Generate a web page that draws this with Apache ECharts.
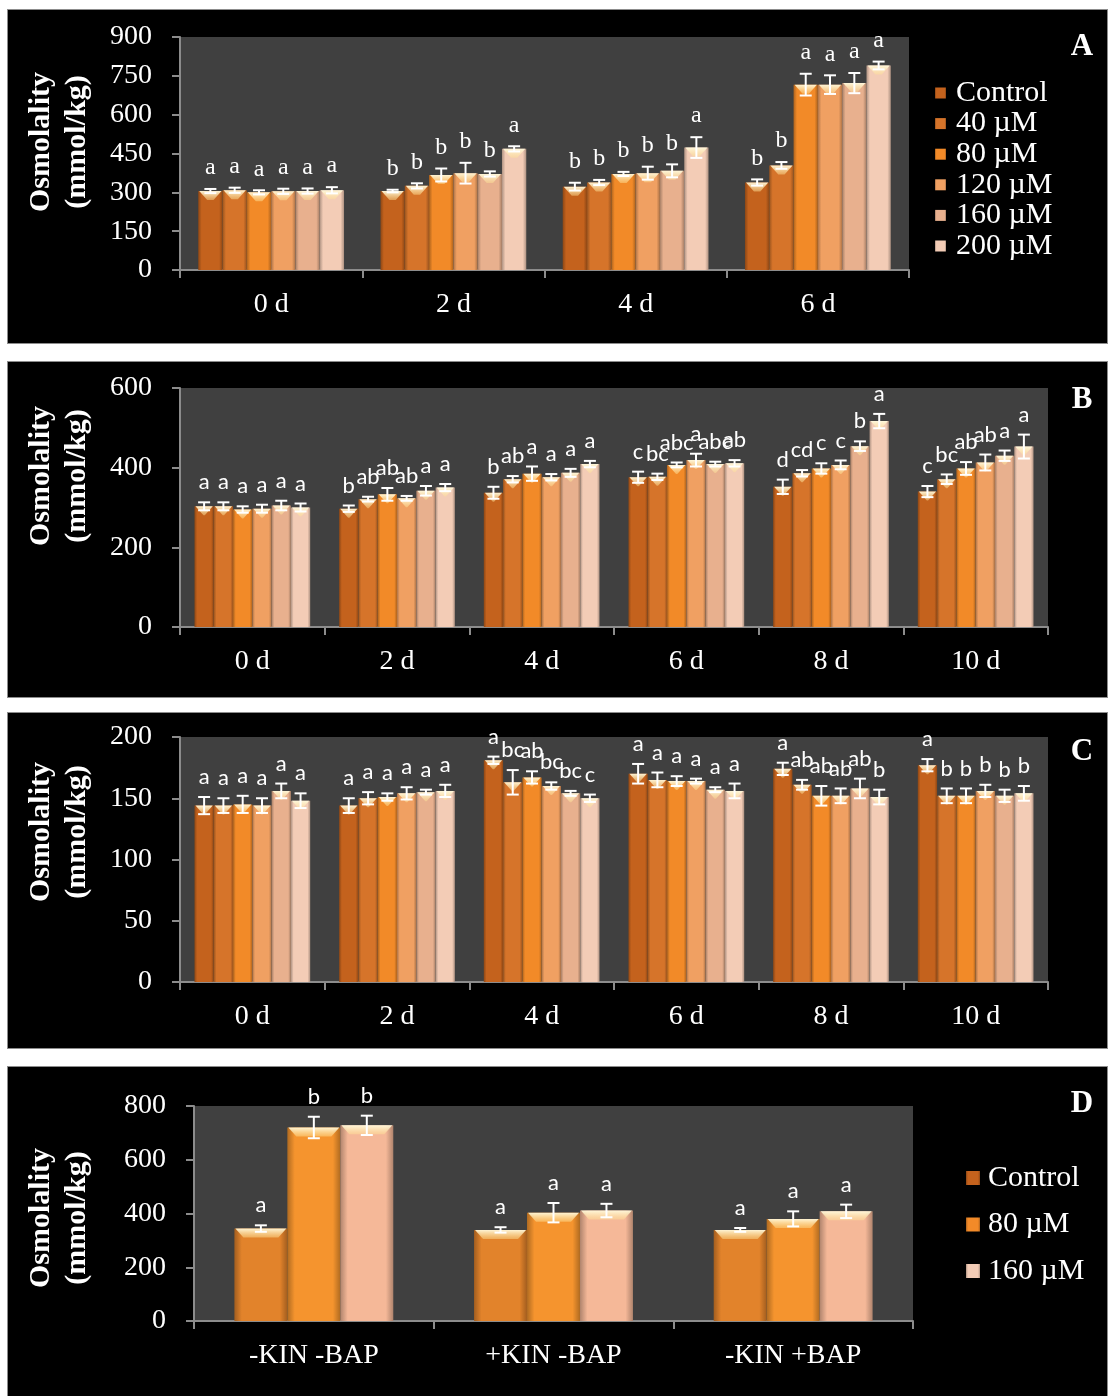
<!DOCTYPE html>
<html>
<head>
<meta charset="utf-8">
<title>Osmolality</title>
<script src="https://cdn.jsdelivr.net/npm/echarts@6/dist/echarts.min.js"></script>
<style>
  html, body { margin: 0; padding: 0; background: #ffffff; }
  body { width: 1109px; height: 1396px; position: relative; overflow: hidden; }
  .panel { position: absolute; left: 8px; width: 1099px; background: #000; outline: 1px solid #8c8c8c; }
</style>
</head>
<body>
<div id="panelA" class="panel" style="top:10px;height:333px"></div>
<div id="panelB" class="panel" style="top:362px;height:335px"></div>
<div id="panelC" class="panel" style="top:713px;height:335px"></div>
<div id="panelD" class="panel" style="top:1067px;height:329px"></div>
<script>
// ---------- Panel A ----------
const daysA = ['0 d', '2 d', '4 d', '6 d'];
const treatmentsA = ['Control', '40 µM', '80 µM', '120 µM', '160 µM', '200 µM'];
const meanA_control = [305, 305, 322, 338];
const meanA_40 = [308, 325, 338, 404];
const meanA_80 = [300, 367, 371, 716];
const meanA_120 = [304, 374, 374, 716];
const meanA_160 = [305, 371, 383, 722];
const meanA_200 = [308, 468, 473, 790];
const errA_control = [8, 5, 15, 12];
const errA_40 = [10, 10, 10, 13];
const errA_80 = [8, 25, 8, 42];
const errA_120 = [10, 40, 25, 36];
const errA_160 = [10, 10, 25, 39];
const errA_200 = [12, 10, 40, 15];
const sigA_control = ['a', 'b', 'b', 'b'];
const sigA_40 = ['a', 'b', 'b', 'b'];
const sigA_80 = ['a', 'b', 'b', 'a'];
const sigA_120 = ['a', 'b', 'b', 'a'];
const sigA_160 = ['a', 'b', 'b', 'a'];
const sigA_200 = ['a', 'a', 'a', 'a'];
const ticksA = { min: 0, max: 900, interval: 150 };

// ---------- Panel B ----------
const daysB = ['0 d', '2 d', '4 d', '6 d', '8 d', '10 d'];
const meanB_control = [303, 297, 337, 376, 352, 340];
const meanB_40 = [303, 321, 371, 377, 386, 371];
const meanB_80 = [295, 333, 385, 407, 398, 398];
const meanB_120 = [297, 323, 376, 419, 407, 413];
const meanB_160 = [305, 342, 387, 409, 454, 430];
const meanB_200 = [300, 350, 409, 411, 517, 453];
const errB_control = [10, 8, 15, 14, 18, 14];
const errB_40 = [10, 6, 8, 8, 8, 12];
const errB_80 = [8, 16, 18, 6, 13, 16];
const errB_120 = [10, 6, 8, 16, 11, 20];
const errB_160 = [12, 12, 10, 6, 12, 13];
const errB_200 = [10, 9, 8, 8, 18, 30];
const sigB_control = ['a', 'b', 'b', 'c', 'd', 'c'];
const sigB_40 = ['a', 'ab', 'ab', 'bc', 'cd', 'bc'];
const sigB_80 = ['a', 'ab', 'a', 'abc', 'c', 'ab'];
const sigB_120 = ['a', 'ab', 'a', 'a', 'c', 'ab'];
const sigB_160 = ['a', 'a', 'a', 'abc', 'b', 'a'];
const sigB_200 = ['a', 'a', 'a', 'ab', 'a', 'a'];
const ticksB = { min: 0, max: 600, interval: 200 };

// ---------- Panel C ----------
const daysC = ['0 d', '2 d', '4 d', '6 d', '8 d', '10 d'];
const meanC_control = [144, 144, 181, 170, 174, 177];
const meanC_40 = [144, 150, 163, 165, 161, 152];
const meanC_80 = [145, 151, 167, 164, 152, 152];
const meanC_120 = [144, 154, 160, 164, 152, 156];
const meanC_160 = [156, 155, 154, 157, 158, 152];
const meanC_200 = [148, 156, 150, 156, 151, 154];
const errC_control = [7, 6, 3, 8, 5, 5];
const errC_40 = [6, 5, 10, 6, 4, 6];
const errC_80 = [7, 3, 5, 4, 8, 6];
const errC_120 = [6, 5, 3, 2, 6, 5];
const errC_160 = [6, 2, 2, 2, 8, 5];
const errC_200 = [6, 5, 3, 6, 6, 6];
const sigC_control = ['a', 'a', 'a', 'a', 'a', 'a'];
const sigC_40 = ['a', 'a', 'bc', 'a', 'ab', 'b'];
const sigC_80 = ['a', 'a', 'ab', 'a', 'ab', 'b'];
const sigC_120 = ['a', 'a', 'bc', 'a', 'ab', 'b'];
const sigC_160 = ['a', 'a', 'bc', 'a', 'ab', 'b'];
const sigC_200 = ['a', 'a', 'c', 'a', 'b', 'b'];
const ticksC = { min: 0, max: 200, interval: 50 };

// ---------- Panel D ----------
const mediaD = ['-KIN -BAP', '+KIN -BAP', '-KIN +BAP'];
const treatmentsD = ['Control', '80 µM', '160 µM'];
const meanD_control = [344, 339, 339];
const meanD_80 = [720, 403, 380];
const meanD_160 = [728, 411, 408];
const errD_control = [12, 10, 7];
const errD_80 = [40, 36, 28];
const errD_160 = [36, 25, 25];
const sigD_control = ['a', 'a', 'a'];
const sigD_80 = ['b', 'a', 'a'];
const sigD_160 = ['b', 'a', 'a'];
const ticksD = { min: 0, max: 800, interval: 200 };

// ---------- styling ----------
const SERIF = '"Liberation Serif", "Times New Roman", serif';
const SANS = 'Lato, "Open Sans", sans-serif';
const AXIS_GREY = '#8c8c8c';
const PLOT_BG = '#404040';

const shadesSix = ['#c4621d', '#d6742a', '#f28a28', '#f0a062', '#e8b08e', '#f3ccb6'];
const shadesThree = ['#e2832b', '#f5942e', '#f5b898'];
const legendShadeD = ['#c4621d', '#f28a28', '#f3ccb6'];

function darken(hex, f) {
  const n = parseInt(hex.slice(1), 16);
  const r = Math.round(((n >> 16) & 255) * f);
  const g = Math.round(((n >> 8) & 255) * f);
  const b = Math.round((n & 255) * f);
  return 'rgb(' + r + ',' + g + ',' + b + ')';
}

function barFill(hex) {
  return new echarts.graphic.LinearGradient(0, 0, 1, 0, [
    { offset: 0, color: darken(hex, 0.72) },
    { offset: 0.14, color: hex },
    { offset: 0.86, color: hex },
    { offset: 1, color: darken(hex, 0.72) }
  ]);
}

function bevelFill() {
  return new echarts.graphic.LinearGradient(0, 0, 0, 1, [
    { offset: 0, color: 'rgba(255,250,222,0.95)' },
    { offset: 1, color: 'rgba(255,226,150,0.45)' }
  ]);
}

// Error bars, top bevel and significance letters for one treatment,
// placed on the same slot that the bar series occupies in each category.
function overlay(slot, count, catGap, means, errs, letters, letterFont) {
  return {
    type: 'custom',
    z: 5,
    silent: true,
    data: means.map((v, i) => [i, v + errs[i]]),
    renderItem(params, api) {
      const i = params.dataIndex;
      const band = api.size([1, 0])[0];
      const bw = band * (1 - catGap) / count;
      const c = api.coord([i, means[i]]);
      const cx = c[0] + (slot - (count - 1) / 2) * bw;
      const top = c[1];
      const hi = api.coord([i, means[i] + errs[i]])[1];
      const lo = api.coord([i, means[i] - errs[i]])[1];
      const h = Math.min(9, bw / 2);
      const x0 = cx - bw / 2, x1 = cx + bw / 2;
      const line = { stroke: '#ffffff', lineWidth: 2 };
      return {
        type: 'group',
        children: [
          { type: 'polygon', shape: { points: [[x0 + 1, top], [x1 - 1, top], [x1 - h, top + h], [x0 + h, top + h]] }, style: { fill: bevelFill() } },
          { type: 'line', shape: { x1: cx, y1: lo, x2: cx, y2: hi }, style: line },
          { type: 'line', shape: { x1: cx - 6, y1: hi, x2: cx + 6, y2: hi }, style: line },
          { type: 'line', shape: { x1: cx - 6, y1: lo, x2: cx + 6, y2: lo }, style: line },
          { type: 'text', x: cx, y: hi - 9, style: { text: letters[i], fill: '#ffffff', font: letterFont, align: 'center', verticalAlign: 'bottom' } }
        ]
      };
    }
  };
}

function buildPanel(el, cfg) {
  const chart = echarts.init(document.getElementById(el), null, { renderer: 'canvas' });
  const series = [];
  cfg.names.forEach((name, s) => {
    series.push({
      name: name,
      type: 'bar',
      data: cfg.means[s],
      barGap: '0%',
      barCategoryGap: (cfg.catGap * 100) + '%',
      itemStyle: { color: barFill(cfg.colors[s]) }
    });
  });
  cfg.names.forEach((name, s) => {
    series.push(overlay(s, cfg.names.length, cfg.catGap, cfg.means[s], cfg.errs[s], cfg.letters[s], cfg.letterFont));
  });
  const graphic = [
    {
      type: 'text', x: cfg.titleX, y: cfg.titleY, rotation: Math.PI / 2,
      style: { text: 'Osmolality\n(mmol/kg)', fill: '#ffffff', font: 'bold 30px ' + SERIF, align: 'center', verticalAlign: 'middle', lineHeight: 36 }
    },
    {
      type: 'text', x: 1074, y: cfg.tagY,
      style: { text: cfg.tag, fill: '#ffffff', font: 'bold 31px ' + SERIF, align: 'center', verticalAlign: 'middle' }
    }
  ];
  const option = {
    backgroundColor: '#000000',
    animation: false,
    grid: Object.assign({ show: true, backgroundColor: PLOT_BG, borderWidth: 0, containLabel: false }, cfg.grid),
    xAxis: {
      type: 'category',
      data: cfg.categories,
      axisLine: { lineStyle: { color: AXIS_GREY, width: 2 } },
      axisTick: { show: true, length: 8, lineStyle: { color: AXIS_GREY, width: 2 } },
      axisLabel: { color: '#ffffff', fontFamily: SERIF, fontSize: 28, margin: 21 }
    },
    yAxis: {
      type: 'value',
      min: cfg.ticks.min, max: cfg.ticks.max, interval: cfg.ticks.interval,
      splitLine: { show: false },
      axisLine: { show: true, lineStyle: { color: AXIS_GREY, width: 2 } },
      axisTick: { show: true, length: 8, lineStyle: { color: AXIS_GREY, width: 2 } },
      axisLabel: { color: '#ffffff', fontFamily: SERIF, fontSize: 28, margin: 28 }
    },
    graphic: graphic,
    series: series
  };
  if (cfg.legend) option.legend = cfg.legend;
  chart.setOption(option);
  return chart;
}

function legendBlock(names, colors, left, top, gap, mark, textGap) {
  return {
    orient: 'vertical',
    left: left, top: top,
    padding: 0,
    itemWidth: mark, itemHeight: mark,
    itemGap: gap,
    icon: 'rect',
    selectedMode: false,
    data: names.map((n, i) => ({ name: n, itemStyle: { color: barFill(colors[i]) } })),
    textStyle: { color: '#ffffff', fontFamily: SERIF, fontSize: 30, lineHeight: 30, padding: [0, 0, 0, textGap] }
  };
}

buildPanel('panelA', {
  categories: daysA,
  names: treatmentsA,
  colors: shadesSix,
  catGap: 0.2,
  means: [meanA_control, meanA_40, meanA_80, meanA_120, meanA_160, meanA_200],
  errs: [errA_control, errA_40, errA_80, errA_120, errA_160, errA_200],
  letters: [sigA_control, sigA_40, sigA_80, sigA_120, sigA_160, sigA_200],
  letterFont: '24px ' + SERIF,
  ticks: ticksA,
  grid: { left: 172, top: 27, width: 729, height: 233 },
  titleX: 51, titleY: 132,
  tag: 'A', tagY: 37,
  legend: legendBlock(treatmentsA, shadesSix, 927, 68, 0.6, 11, 5)
});

buildPanel('panelB', {
  categories: daysB,
  names: treatmentsA,
  colors: shadesSix,
  catGap: 0.2,
  means: [meanB_control, meanB_40, meanB_80, meanB_120, meanB_160, meanB_200],
  errs: [errB_control, errB_40, errB_80, errB_120, errB_160, errB_200],
  letters: [sigB_control, sigB_40, sigB_80, sigB_120, sigB_160, sigB_200],
  letterFont: '22px ' + SANS,
  ticks: ticksB,
  grid: { left: 172, top: 26, width: 868, height: 239 },
  titleX: 51, titleY: 114,
  tag: 'B', tagY: 38
});

buildPanel('panelC', {
  categories: daysC,
  names: treatmentsA,
  colors: shadesSix,
  catGap: 0.2,
  means: [meanC_control, meanC_40, meanC_80, meanC_120, meanC_160, meanC_200],
  errs: [errC_control, errC_40, errC_80, errC_120, errC_160, errC_200],
  letters: [sigC_control, sigC_40, sigC_80, sigC_120, sigC_160, sigC_200],
  letterFont: '22px ' + SANS,
  ticks: ticksC,
  grid: { left: 172, top: 24, width: 868, height: 245 },
  titleX: 51, titleY: 119,
  tag: 'C', tagY: 39
});

buildPanel('panelD', {
  categories: mediaD,
  names: treatmentsD,
  colors: shadesThree,
  catGap: 0.337,
  means: [meanD_control, meanD_80, meanD_160],
  errs: [errD_control, errD_80, errD_160],
  letters: [sigD_control, sigD_80, sigD_160],
  letterFont: '22px ' + SANS,
  ticks: ticksD,
  grid: { left: 186, top: 39, width: 719, height: 215 },
  titleX: 51, titleY: 151,
  tag: 'D', tagY: 37,
  legend: legendBlock(treatmentsD, legendShadeD, 958, 96, 16.5, 14, 3)
});
</script>
</body>
</html>
